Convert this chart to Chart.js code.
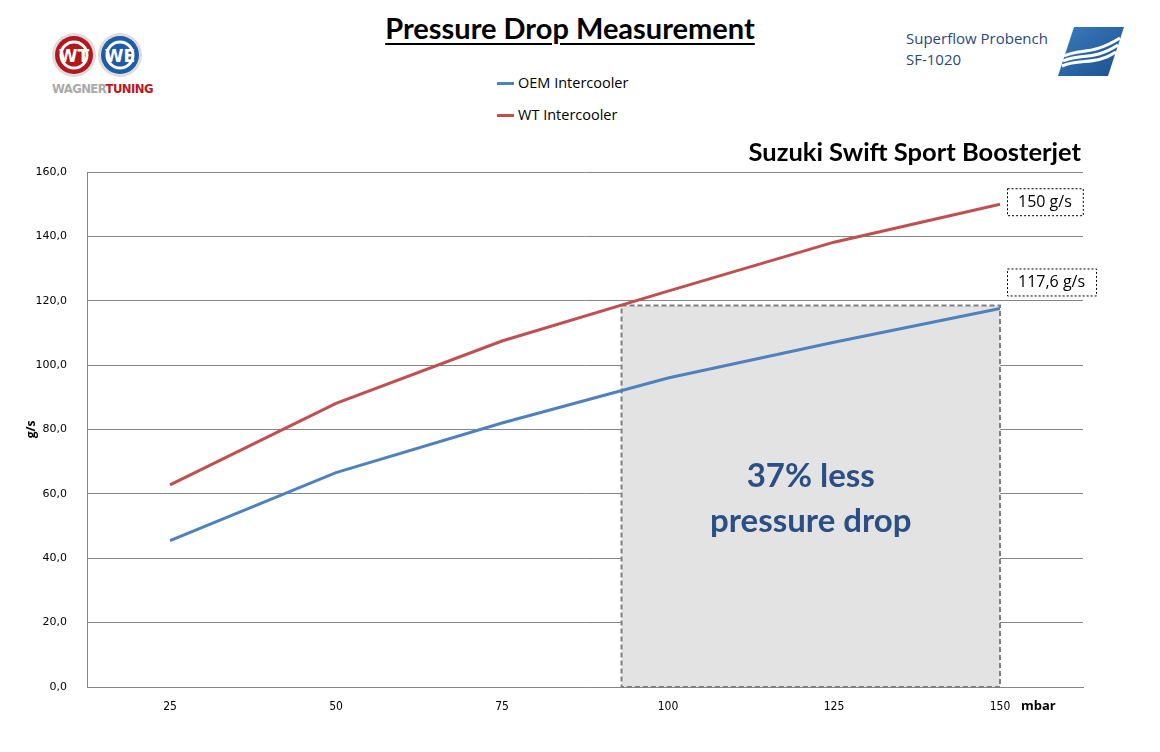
<!DOCTYPE html>
<html>
<head>
<meta charset="utf-8">
<script src="https://cdn.jsdelivr.net/npm/chart.js@4.4.0/dist/chart.umd.min.js"></script>
<style>
  html, body { margin: 0; padding: 0; background: #fff; }
  #wrap { position: relative; width: 1160px; height: 752px; overflow: hidden; }
  #chart { position: absolute; left: 0; top: 0; }
  .title {
    position: absolute; left: 0; width: 1140px; top: 10px; text-align: center;
    font: bold 29px Lato, "Open Sans", sans-serif; color: #000; text-decoration: underline;
    text-underline-offset: 4px; text-decoration-thickness: 2px;
  }
  .legend { position: absolute; left: 497px; top: 73px; font: 14.5px "Open Sans", sans-serif; color: #000; }
  .legend div { height: 32px; display: flex; align-items: flex-start; }
  .legend span.sw { display: inline-block; width: 17px; height: 3px; margin-top: 9px; margin-right: 4px; }
  .sf { position: absolute; left: 906px; top: 28px; font: 15px "Open Sans", sans-serif; color: #2a4a7a; line-height: 21px; }
  .wt { position: absolute; left: 52px; top: 81px; font: bold 13px "Liberation Sans Narrow", "DejaVu Sans Condensed", sans-serif; letter-spacing: -0.6px; }
</style>
</head>
<body>
<div id="wrap">
  <svg style="position:absolute;left:48px;top:28px" width="100" height="56">
    <circle cx="26" cy="27" r="22" fill="#ddd"/>
    <circle cx="26" cy="27" r="19" fill="#b3171d"/>
    <circle cx="26" cy="27" r="13" fill="none" stroke="#fff" stroke-width="3"/>
    <circle cx="72" cy="27" r="22" fill="#ddd"/>
    <circle cx="72" cy="27" r="19" fill="#1f5ca8"/>
    <circle cx="72" cy="27" r="13" fill="none" stroke="#fff" stroke-width="3"/>
    <text x="26" y="34" text-anchor="middle" font-family="DejaVu Sans" font-weight="bold" font-size="17" fill="#fff">WT</text>
    <text x="72" y="34" text-anchor="middle" font-family="DejaVu Sans" font-weight="bold" font-size="17" fill="#fff">WE</text>
  </svg>
  <div class="wt"><span style="color:#aaa">WAGNER</span><span style="color:#c0161d">TUNING</span></div>
  <div class="title">Pressure Drop Measurement</div>
  <div class="legend" id="legend"></div>
  <div class="sf">Superflow Probench<br>SF-1020</div>
  <svg style="position:absolute;left:1056px;top:26px" width="70" height="52">
    <defs>
      <linearGradient id="g" x1="0" y1="0" x2="1" y2="1">
        <stop offset="0" stop-color="#3b7cc0"/>
        <stop offset="1" stop-color="#1b4f8c"/>
      </linearGradient>
    </defs>
    <path d="M18 1 L68 1 L52 50 L2 50 Z" fill="url(#g)"/>
    <path d="M8 30 C 25 22, 35 30, 64 12" stroke="#fff" stroke-width="3" fill="none"/>
    <path d="M7 35 C 25 27, 37 35, 62 19" stroke="#fff" stroke-width="3" fill="none"/>
    <path d="M6 40 C 25 32, 39 40, 60 26" stroke="#fff" stroke-width="3" fill="none"/>
  </svg>
  <canvas id="chart" width="1160" height="752"></canvas>
</div>
<script>
// --- данные ---
const categories = ['25', '50', '75', '100', '125', '150'];
const seriesNames = ['OEM Intercooler', 'WT Intercooler'];
const oemValues = [45.5, 66.6, 82.0, 96.0, 107.1, 117.6];
const wtValues = [62.8, 88.1, 107.5, 123.0, 138.2, 150.0];
const yTicks = [0, 20, 40, 60, 80, 100, 120, 140, 160];
const endLabels = ['117,6 g/s', '150 g/s'];
// выделенная область (в единицах осей)
const highlightFrom = 2.72;
const highlightTo = 5;
const highlightTop = 118.5;
const highlightText = ['37% less', 'pressure drop'];

const colors = ['#4f81bd', '#c0504d'];

// легенда
const legendEl = document.getElementById('legend');
seriesNames.forEach((name, i) => {
    const row = document.createElement('div');
    row.innerHTML = `<span class="sw" style="background:${colors[i]}"></span>${name}`;
    legendEl.appendChild(row);
});

const extras = {
    id: 'extras',
    beforeDatasetsDraw(chart) {
        const { ctx, scales: { x, y } } = chart;
        const x1 = x.getPixelForValue(highlightFrom);
        const x2 = x.getPixelForValue(highlightTo);
        const y1 = y.getPixelForValue(highlightTop);
        const y2 = y.getPixelForValue(0);
        ctx.save();
        ctx.fillStyle = '#e3e3e3';
        ctx.fillRect(x1, y1, x2 - x1, y2 - y1);
        ctx.setLineDash([5, 3]);
        ctx.strokeStyle = '#7f7f7f';
        ctx.lineWidth = 2;
        ctx.strokeRect(x1, y1, x2 - x1, y2 - y1);
        ctx.restore();

        ctx.save();
        ctx.fillStyle = '#2b4f85';
        ctx.font = 'bold 33px Lato, "Open Sans", sans-serif';
        ctx.textAlign = 'center';
        ctx.textBaseline = 'middle';
        const cx = (x1 + x2) / 2;
        ctx.fillText(highlightText[0], cx, 476);
        ctx.fillText(highlightText[1], cx, 521);
        ctx.restore();
    },
    afterDatasetsDraw(chart) {
        const { ctx, scales: { x, y }, chartArea } = chart;
        ctx.save();
        ctx.font = '16px "Open Sans", sans-serif';
        ctx.textBaseline = 'middle';
        ctx.textAlign = 'left';
        // подписи последних точек
        const last = categories.length - 1;
        const pos = [
            { dx: 7, dy: -26 },
            { dx: 7, dy: -2 }
        ];
        [oemValues, wtValues].forEach((vals, i) => {
            const px = x.getPixelForValue(last) + pos[i].dx;
            const py = y.getPixelForValue(vals[last]) + pos[i].dy;
            const w = ctx.measureText(endLabels[i]).width + 22;
            ctx.fillStyle = '#fff';
            ctx.fillRect(px, py - 13, w, 27);
            ctx.setLineDash([2, 2]);
            ctx.strokeStyle = '#000';
            ctx.lineWidth = 1;
            ctx.strokeRect(px + 0.5, py - 13.5, w, 27);
            ctx.fillStyle = '#000';
            ctx.fillText(endLabels[i], px + 11, py);
        });
        ctx.setLineDash([]);
        // заголовок модели и единица оси X
        ctx.font = 'bold 25.5px Lato, "Open Sans", sans-serif';
        ctx.textAlign = 'right';
        ctx.fillText('Suzuki Swift Sport Boosterjet', chartArea.right - 2, 153);
        ctx.font = 'bold 13px "Open Sans", sans-serif';
        ctx.textAlign = 'left';
        ctx.fillText('mbar', 1021, 706);
        ctx.restore();
    }
};

new Chart(document.getElementById('chart'), {
    type: 'line',
    data: {
        labels: categories,
        datasets: [oemValues, wtValues].map((vals, i) => ({
            label: seriesNames[i],
            data: vals,
            borderColor: colors[i],
            backgroundColor: colors[i],
            borderWidth: 3,
            pointRadius: 0,
            tension: 0
        }))
    },
    options: {
        responsive: false,
        animation: false,
        layout: { padding: { left: 0, right: 77, top: 172, bottom: 0 } },
        plugins: { legend: { display: false }, tooltip: { enabled: false } },
        scales: {
            x: {
                offset: true,
                grid: { display: false, drawTicks: false },
                border: { display: true, color: '#868686', width: 1 },
                ticks: {
                    padding: 13,
                    color: '#000',
                    font: { family: '"Liberation Sans Narrow", "DejaVu Sans Condensed", sans-serif', size: 12 }
                },
                afterFit(scale) { scale.height = 65; }
            },
            y: {
                min: 0,
                max: 160,
                afterBuildTicks(scale) { scale.ticks = yTicks.map(v => ({ value: v })); },
                grid: { color: '#868686', drawTicks: false },
                border: { display: true, color: '#868686', width: 1 },
                ticks: {
                    padding: 20,
                    color: '#000',
                    font: { family: '"DejaVu Sans", sans-serif', size: 11 },
                    callback: v => v.toFixed(1).replace('.', ',')
                },
                title: {
                    display: true,
                    text: 'g/s',
                    color: '#000',
                    font: { family: '"Open Sans", sans-serif', size: 12, weight: 'bold' },
                    padding: { top: 24, bottom: 0 }
                },
                afterFit(scale) { scale.width = 87; }
            }
        }
    },
    plugins: [extras]
});
</script>
</body>
</html>
